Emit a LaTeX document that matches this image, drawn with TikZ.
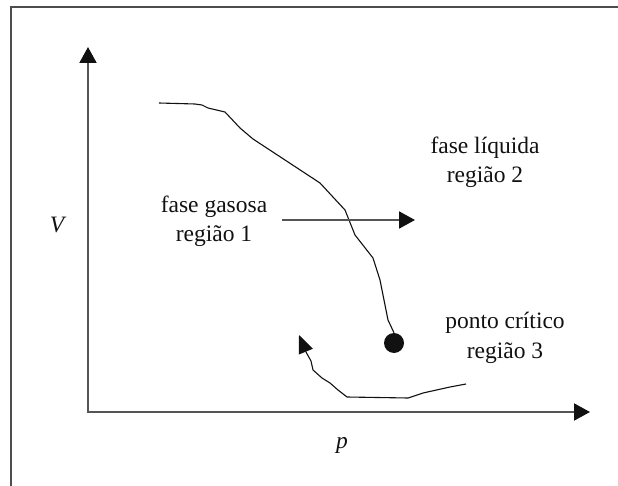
\documentclass[tikz,border=0pt]{standalone}
\usepackage{fontspec}
\setmainfont{Liberation Serif}
\usetikzlibrary{arrows.meta}
\definecolor{axg}{HTML}{555555}
\definecolor{frm}{HTML}{4D4D4D}
\definecolor{ink}{HTML}{111111}

\begin{document}
\begin{tikzpicture}[
  x=1pt, y=-1pt,
  font=\fontsize{23.5}{29.5}\selectfont,
  axis/.style={-{Triangle[length=16pt,width=17pt,color=ink]}, line width=2pt, axg},
  curve/.style={line width=1.1pt, ink, line join=round},
  back/.style={curve, -{Triangle[length=18pt,width=15pt]}},
  lab/.style={align=center, inner sep=0pt, anchor=base, text=ink}
]
\useasboundingbox (0,0) rectangle (618,486);
% ---------------------------------------------------------------- frame
\draw[frm, line width=2pt] (11,486) -- (11,7.5) -- (618,7.5);

% ---------------------------------------------------------------- axes
\coordinate (o) at (88,412);
\coordinate (vtip) at (88,47);
\coordinate (ptip) at (590,412);
\draw[axis] ([yshift=-1pt]o) -- (vtip);
\draw[axis] (o) -- (ptip);
\node[lab] (vlab) at (57,233) {\itshape V};
\node[lab] (plab) at (342,448) {\itshape p};

% ---------------------------------------------------------------- critical point
\node[circle, fill=ink, inner sep=0pt, minimum size=20pt] (crit) at (394,343) {};

% coexistence curve, drawn by hand
\coordinate (top) at (159,103);
\draw[curve] (top) -- (195,104) -- (202,105) -- (208,108) -- (225,112) -- (240,128)
  -- (253,139) -- (320,183) -- (345,210) -- (355,235) -- (373,258) -- (380,280)
  -- (384,300) -- (388,320) -- (crit.north);

% path back round the critical point
\coordinate (low) at (466,384);
\coordinate (bk) at (299,335);
\draw[back] (low) -- (450,387) -- (423,393) -- (408,398) -- (347,397) -- (338,390)
  -- (330,383) -- (322,378) -- (313,370) -- (311,361) -- (306,352) -- (bk);

% ---------------------------------------------------------------- regions
\coordinate (a1) at (282,220);
\coordinate (a2) at (415,220);
\draw[axis] (a1) -- (a2);
\node[lab] (gas) at (214,242) {fase gasosa\\região 1};
\node[lab] (liq) at (485,183) {fase líquida\\região 2};
\node[lab] (cp) at (505,358) {ponto crítico\\região 3};
\end{tikzpicture}
\end{document}
